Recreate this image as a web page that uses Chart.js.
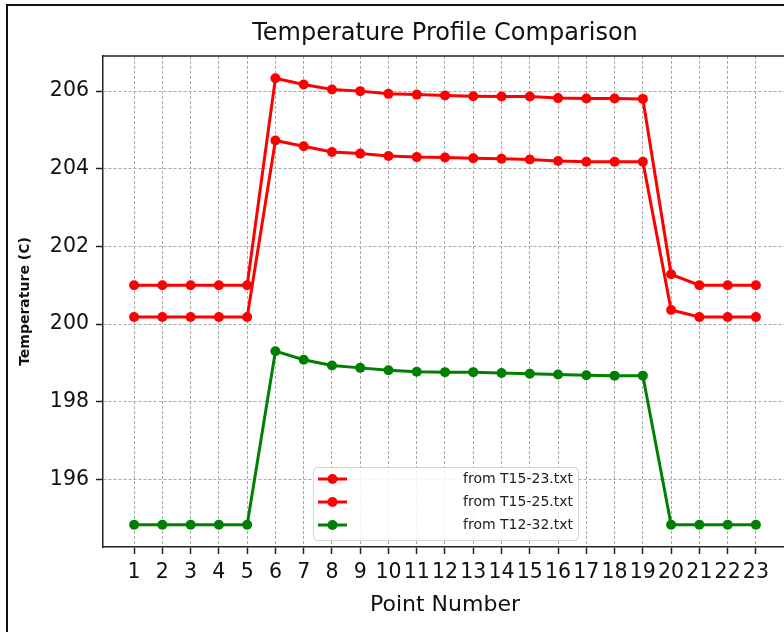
<!DOCTYPE html>
<html>
<head>
<meta charset="utf-8">
<script src="https://cdn.jsdelivr.net/npm/chart.js@4/dist/chart.umd.min.js"></script>
<style>
html,body{margin:0;padding:0;background:#fff;overflow:hidden;width:784px;height:632px}
#wrap{position:relative;width:784px;height:632px;overflow:hidden}
canvas{display:block}
</style>
</head>
<body>
<div id="wrap"><canvas id="c" width="792" height="632"></canvas></div>
<script>
// ---- data ----
const pointNumbers = [1,2,3,4,5,6,7,8,9,10,11,12,13,14,15,16,17,18,19,20,21,22,23];
const yTickValues = [196,198,200,202,204,206];
const seriesLabels = ['from T15-23.txt','from T15-25.txt','from T12-32.txt'];
const tempT1523 = [201.0,201.0,201.0,201.0,201.0,206.33,206.17,206.04,206.0,205.93,205.91,205.89,205.87,205.86,205.86,205.82,205.81,205.81,205.80,201.28,201.0,201.0,201.0];
const tempT1525 = [200.18,200.18,200.18,200.18,200.18,204.73,204.58,204.43,204.39,204.33,204.30,204.29,204.27,204.26,204.24,204.20,204.18,204.18,204.18,200.36,200.18,200.18,200.18];
const tempT1232 = [194.83,194.83,194.83,194.83,194.83,199.30,199.08,198.93,198.87,198.81,198.77,198.76,198.76,198.74,198.72,198.70,198.68,198.67,198.67,194.83,194.83,194.83,194.83];
const titleText = 'Temperature Profile Comparison';
const xTitle = 'Point Number';
const yTitle = 'Temperature (C)';

// ---- styles ----
const FONT = '"DejaVu Sans", Verdana, sans-serif';
const seriesColors = ['#ff0000', '#ff0000', '#008000'];
const seriesValues = [tempT1523, tempT1525, tempT1232];

const datasets = seriesValues.map((vals, k) => ({
  label: seriesLabels[k],
  data: pointNumbers.map((x, i) => ({x: x, y: vals[i]})),
  borderColor: seriesColors[k],
  backgroundColor: seriesColors[k],
  borderWidth: 3,
  pointRadius: 5,
  pointHoverRadius: 5,
  pointBorderWidth: 0,
  tension: 0,
  clip: false
}));

const gridStyle = {
  color: '#a8a8a8',
  lineWidth: 1,
  drawTicks: true,
  tickLength: 7,
  tickColor: '#222',
  tickWidth: 1.5,
  tickBorderDash: []
};
const borderStyle = { display: true, color: '#222', width: 1.5, dash: [3, 2] };

const framePlugin = {
  id: 'frame',
  beforeDraw(chart) {
    const ctx = chart.ctx;
    ctx.save();
    ctx.fillStyle = '#fff';
    ctx.fillRect(0, 0, chart.width, chart.height);
    ctx.fillStyle = '#111';
    ctx.fillRect(6, 4, chart.width, 2);
    ctx.fillRect(6, 4, 2, chart.height);
    ctx.restore();
  }
};

const decorPlugin = {
  id: 'decor',
  afterDatasetsDraw(chart) {
    const ctx = chart.ctx, a = chart.chartArea;
    ctx.save();
    ctx.setLineDash([]);
    // top spine
    ctx.strokeStyle = '#222';
    ctx.lineWidth = 1.5;
    ctx.beginPath();
    ctx.moveTo(a.left, a.top);
    ctx.lineTo(a.right, a.top);
    ctx.stroke();
    // title
    ctx.fillStyle = '#111';
    ctx.font = '24px ' + FONT;
    ctx.textAlign = 'center';
    ctx.textBaseline = 'middle';
    ctx.fillText(titleText, (a.left + a.right) / 2, 34);
    // legend
    const bx = 313.5, by = 467.5, bw = 265, bh = 73;
    ctx.fillStyle = 'rgba(255,255,255,0.85)';
    ctx.strokeStyle = '#d6d6d6';
    ctx.lineWidth = 1;
    ctx.beginPath();
    ctx.roundRect(bx, by, bw, bh, 4);
    ctx.fill();
    ctx.stroke();
    const rows = [479, 502, 525];
    ctx.font = '14px ' + FONT;
    ctx.textAlign = 'right';
    chart.data.datasets.forEach((ds, i) => {
      const y = rows[i];
      ctx.strokeStyle = ds.borderColor;
      ctx.lineWidth = 3;
      ctx.beginPath();
      ctx.moveTo(318, y);
      ctx.lineTo(347, y);
      ctx.stroke();
      ctx.fillStyle = ds.backgroundColor;
      ctx.beginPath();
      ctx.arc(332.5, y, 5, 0, Math.PI * 2);
      ctx.fill();
      ctx.fillStyle = '#222';
      ctx.fillText(ds.label, 573, y);
    });
    ctx.restore();
  }
};

new Chart(document.getElementById('c'), {
  type: 'line',
  data: { datasets: datasets },
  options: {
    responsive: false,
    animation: false,
    devicePixelRatio: 1,
    events: [],
    layout: { padding: { left: 0, top: 56, right: 4, bottom: 0 } },
    plugins: { legend: { display: false }, title: { display: false }, tooltip: { enabled: false } },
    scales: {
      x: {
        type: 'linear',
        min: -0.1,
        max: 24.1,
        afterBuildTicks: s => { s.ticks = pointNumbers.map(v => ({value: v})); },
        afterFit: s => { s.height = 85; },
        grid: gridStyle,
        border: borderStyle,
        ticks: { autoSkip: false, maxRotation: 0, minRotation: 0, color: '#111', padding: 6, font: { family: FONT, size: 20.5 } },
        title: { display: true, text: xTitle, color: '#111', font: { family: FONT, size: 22 }, padding: { top: 0, bottom: 14 } }
      },
      y: {
        type: 'linear',
        min: 194.255,
        max: 206.905,
        afterBuildTicks: s => { s.ticks = yTickValues.map(v => ({value: v})); },
        afterFit: s => { s.width = 103; },
        grid: gridStyle,
        border: borderStyle,
        ticks: { color: '#111', padding: 7, font: { family: FONT, size: 20.5 } },
        title: { display: true, text: yTitle, color: '#111', font: { family: FONT, size: 14, weight: 'bold' }, padding: { top: 17, bottom: 0 } }
      }
    }
  },
  plugins: [framePlugin, decorPlugin]
});
</script>
</body>
</html>
